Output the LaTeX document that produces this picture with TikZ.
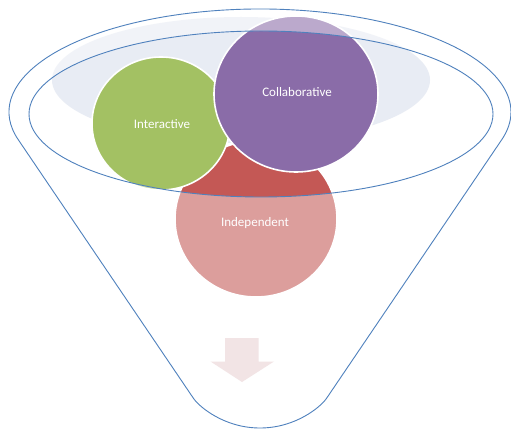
\documentclass[tikz,border=0pt]{standalone}
\usepackage{fontspec}
\setmainfont{Carlito}
\definecolor{funnelblue}{RGB}{79,129,189}
\definecolor{ringgray}{RGB}{232,236,244}
\definecolor{igreen}{RGB}{163,193,99}
\definecolor{cpurple}{RGB}{138,108,168}
\definecolor{ired}{RGB}{196,88,85}
\definecolor{arrowpink}{RGB}{242,228,229}
\begin{document}
\begin{tikzpicture}[x=1pt,y=-1pt,
  bubble/.style={line width=1.6pt, draw=white},
  funnelline/.style={draw=funnelblue, line width=0.9pt},
  bubbletext/.style={text=white, font=\fontsize{13}{15}\selectfont, anchor=base, inner sep=0pt}]
\fill[white] (0,0) rectangle (511,430);
\useasboundingbox (0,0) rectangle (511,430);
% pale ellipse behind the circles
\fill[ringgray] (241,80) ellipse [x radius=189, y radius=63];
% circles
\filldraw[bubble, fill=ired] (256,219) ellipse [x radius=81, y radius=78];
\filldraw[bubble, fill=igreen] (161,123.5) ellipse [x radius=69, y radius=66.5];
\filldraw[bubble, fill=cpurple] (296,94) ellipse [x radius=82, y radius=78];
% corner points of the funnel bottom
\coordinate (bl) at (193.5,398.4);
\coordinate (br) at (326.5,398.4);
\coordinate (bb) at (260,428);
% translucent funnel body (hole = inner ellipse)
\fill[white, fill opacity=0.42, even odd rule]
  (260,112) ++(164.5:251 and 103)
  arc[start angle=164.5, end angle=375.5, x radius=251, y radius=103]
  -- (br)
  .. controls (321,406.5) and (296,428) .. (bb)
  .. controls (224,428) and (199,406.5) .. (bl)
  -- cycle
  (261,114) ellipse [x radius=232, y radius=83];
% funnel outlines
\draw[funnelline]
  (260,112) ++(164.5:251 and 103)
  arc[start angle=164.5, end angle=375.5, x radius=251, y radius=103]
  -- (br)
  .. controls (321,406.5) and (296,428) .. (bb)
  .. controls (224,428) and (199,406.5) .. (bl)
  -- cycle;
\draw[funnelline] (261,114) ellipse [x radius=232, y radius=83];
% down arrow
\fill[arrowpink] (225,338) -- (258.5,338) -- (258.5,361.5) -- (274,361.5)
  -- (242,382) -- (210.5,361.5) -- (225,361.5) -- cycle;
% labels
\node[bubbletext] (inter) at (162,128.5) {Interactive};
\node[bubbletext] (collab) at (297,96.5) {Collaborative};
\node[bubbletext] (indep) at (255,227) {Independent};
\end{tikzpicture}
\end{document}
